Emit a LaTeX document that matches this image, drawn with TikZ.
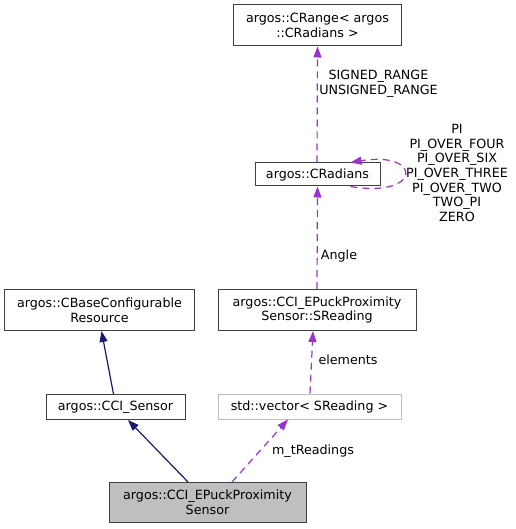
\documentclass[tikz,border=0pt]{standalone}
\usepackage{fontspec}
\setmainfont{DejaVu Sans}
\usetikzlibrary{arrows.meta}
\definecolor{inh}{HTML}{191970}
\definecolor{use}{HTML}{9A32CD}
\definecolor{boxline}{HTML}{404040}
\begin{document}
\begin{tikzpicture}[x=1pt,y=-1pt,
  every node/.style={font=\fontsize{12.7}{14.6}\selectfont, inner sep=0pt, align=center},
  cls/.style={draw=boxline, line width=1pt, fill=white},
  extcls/.style={draw=black!25, line width=1pt, fill=white},
  maincls/.style={draw=boxline, line width=1pt, fill=black!25},
  inhedge/.style={draw=inh, line width=1.2pt, -{Triangle[length=11pt,width=8pt]}},
  useedge/.style={draw=use, line width=1.2pt, dash pattern=on 7pt off 5pt, -{Triangle[length=11pt,width=8pt]}},
  lbl/.style={text=black}]
\useasboundingbox (0,0) rectangle (515,529);
\node[cls, minimum width=168, minimum height=41] (crange) at (317.5,25.5) {argos::CRange< argos\\::CRadians >};
\node[cls, minimum width=125, minimum height=23] (rad) at (317.5,174.5) {argos::CRadians};
\node[cls, minimum width=198, minimum height=41] (sread) at (317,310) {argos::CCI\_EPuckProximity\\Sensor::SReading};
\node[extcls, minimum width=183, minimum height=25] (vec) at (309.5,406.5) {std::vector< SReading >};
\node[cls, minimum width=139, minimum height=25] (sens) at (115.5,407) {argos::CCI\_Sensor};
\node[cls, minimum width=190, minimum height=41] (base) at (99.5,310) {argos::CBaseConfigurable\\Resource};
\node[maincls, minimum width=197, minimum height=40] (main) at (207.5,502.5) {argos::CCI\_EPuckProximity\\Sensor};

\draw[inhedge] (sens.north -| 113.5,0) -- (base.south -| 101.5,0);
\draw[inhedge] (main.north -| 188,0) -- (sens.south -| 128,0);
\draw[useedge] (main.north -| 232,0) -- (vec.south -| 288,0);
\draw[useedge] (vec.north -| 310,0) -- (sread.south -| 313,0);
\draw[useedge] (sread.north -| 317,0) -- (rad.south -| 317.5,0);
\draw[useedge] (rad.north -| 317,0) -- (crange.south -| 317.5,0);
\draw[useedge] (rad.-20) .. controls +(72,12) and +(72,-12) .. (rad.20);

\node[lbl] (l1) at (378.5,84) {SIGNED\_RANGE\\UNSIGNED\_RANGE};
\node[lbl] (l2) at (457,173) {PI\\PI\_OVER\_FOUR\\PI\_OVER\_SIX\\PI\_OVER\_THREE\\PI\_OVER\_TWO\\TWO\_PI\\ZERO};
\node[lbl] (l3) at (339,256) {Angle};
\node[lbl] (l4) at (348,360) {elements};
\node[lbl] (l5) at (313,451) {m\_tReadings};
\end{tikzpicture}
\end{document}
